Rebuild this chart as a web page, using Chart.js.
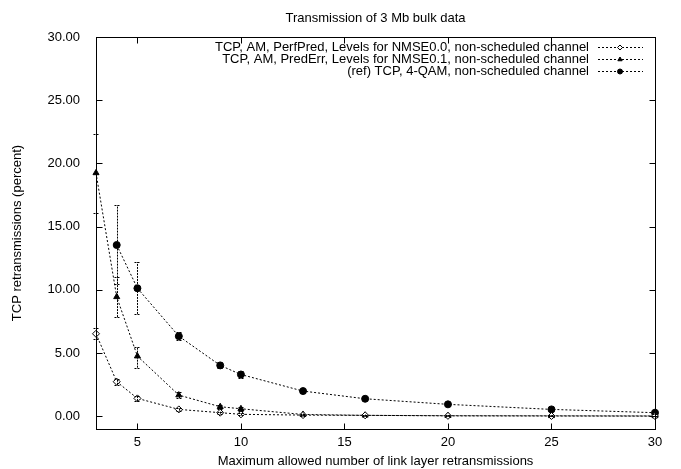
<!DOCTYPE html>
<html>
<head>
<meta charset="utf-8">
<script src="https://cdn.jsdelivr.net/npm/chart.js@4/dist/chart.umd.min.js"></script>
<style>
  html, body { margin: 0; padding: 0; background: #fff; }
  #wrap { width: 681px; height: 469px; }
</style>
</head>
<body>
<div id="wrap"><canvas id="chart" width="681" height="469"></canvas></div>
<script>
// data
const chartTitle = 'Transmission of 3 Mb bulk data';
const xTicks = [5, 10, 15, 20, 25, 30];
const yTicks = [0, 5, 10, 15, 20, 25, 30];

const perfLabel = 'TCP, AM, PerfPred, Levels for NMSE0.0, non-scheduled channel';
const perfX  = [3, 4, 5, 7, 9, 10, 13, 16, 20, 25, 30];
const perfY  = [6.53, 2.74, 1.42, 0.55, 0.29, 0.16, 0.10, 0.08, 0.04, 0.03, 0.02];
const perfLo = [6.10, 2.50, 1.22, 0.45, 0.21, 0.10, 0.06, 0.04, 0.02, 0.01, 0.01];
const perfHi = [6.95, 2.98, 1.63, 0.65, 0.37, 0.23, 0.14, 0.12, 0.07, 0.05, 0.04];

const predLabel = 'TCP, AM, PredErr, Levels for NMSE0.1, non-scheduled channel';
const predX  = [3, 4, 5, 7, 9, 10, 13, 16, 20, 25, 30];
const predY  = [19.25, 9.45, 4.76, 1.68, 0.76, 0.60, 0.15, 0.08, 0.05, 0.04, 0.03];
const predLo = [16.10, 7.85, 3.85, 1.45, 0.62, 0.45, 0.08, 0.03, 0.02, 0.01, 0.01];
const predHi = [22.30, 11.00, 5.50, 1.90, 0.90, 0.75, 0.22, 0.13, 0.08, 0.07, 0.05];

const refLabel = '(ref) TCP, 4-QAM, non-scheduled channel';
const refX  = [4, 5, 7, 9, 10, 13, 16, 20, 25, 30];
const refY  = [13.55, 10.13, 6.34, 4.03, 3.31, 2.00, 1.39, 0.95, 0.55, 0.29];
const refLo = [10.50, 8.10, 6.00, 3.80, 3.05, 1.85, 1.27, 0.87, 0.48, 0.22];
const refHi = [16.70, 12.20, 6.70, 4.27, 3.57, 2.15, 1.50, 1.03, 0.62, 0.36];

const FONT = '"Liberation Sans", Arial, Helvetica, sans-serif';
const DASH = [2, 2];

function pts(xs, ys) {
  return xs.map((x, i) => ({ x: x, y: ys[i] }));
}

function series(label, xs, ys, lo, hi, style, fill) {
  return {
    label: label,
    data: pts(xs, ys),
    errLo: lo,
    errHi: hi,
    showLine: true,
    borderColor: '#000',
    borderWidth: 1,
    borderDash: DASH,
    pointStyle: style,
    pointRadius: 3.5,
    pointBackgroundColor: fill,
    pointBorderColor: '#000',
    pointBorderWidth: 1,
    clip: false
  };
}

// vertical error bars with small caps
const errorBars = {
  id: 'errorBars',
  afterDatasetsDraw(chart) {
    const ctx = chart.ctx;
    const ys = chart.scales.y;
    ctx.save();
    ctx.strokeStyle = '#000';
    ctx.lineWidth = 1;
    ctx.setLineDash([2, 1]);
    chart.data.datasets.forEach((ds, di) => {
      const meta = chart.getDatasetMeta(di);
      meta.data.forEach((pt, i) => {
        const x = Math.round(pt.x) + 0.5;
        const y1 = ys.getPixelForValue(ds.errLo[i]);
        const y2 = ys.getPixelForValue(ds.errHi[i]);
        ctx.beginPath();
        ctx.moveTo(x, y1); ctx.lineTo(x, y2);
        ctx.moveTo(x - 3, Math.round(y1) + 0.5); ctx.lineTo(x + 3, Math.round(y1) + 0.5);
        ctx.moveTo(x - 3, Math.round(y2) + 0.5); ctx.lineTo(x + 3, Math.round(y2) + 0.5);
        ctx.stroke();
      });
    });
    ctx.restore();
  }
};

// gnuplot style frame: full border, mirrored inward ticks, title and key
const frame = {
  id: 'frame',
  afterDraw(chart) {
    const ctx = chart.ctx;
    const a = chart.chartArea;
    const xs = chart.scales.x, ys = chart.scales.y;
    ctx.save();
    ctx.strokeStyle = '#000';
    ctx.lineWidth = 1;
    ctx.setLineDash([]);
    const L = Math.round(a.left) + 0.5, R = Math.round(a.right) + 0.5;
    const T = Math.round(a.top) + 0.5, B = Math.round(a.bottom) + 0.5;
    ctx.strokeRect(L, T, R - L, B - T);
    ctx.beginPath();
    yTicks.forEach(v => {
      const y = Math.round(ys.getPixelForValue(v)) + 0.5;
      ctx.moveTo(L, y); ctx.lineTo(L + 6, y);
      ctx.moveTo(R, y); ctx.lineTo(R - 6, y);
    });
    xTicks.forEach(v => {
      const x = Math.round(xs.getPixelForValue(v)) + 0.5;
      ctx.moveTo(x, B); ctx.lineTo(x, B - 6);
      ctx.moveTo(x, T); ctx.lineTo(x, T + 6);
    });
    ctx.stroke();

    // title
    ctx.fillStyle = '#000';
    ctx.font = '13px ' + FONT;
    ctx.textAlign = 'center';
    ctx.textBaseline = 'middle';
    ctx.fillText(chartTitle, (a.left + a.right) / 2, 18);

    // key: text right aligned, dotted sample with marker on the right
    const rows = [47, 59, 71];
    chart.data.datasets.forEach((ds, i) => {
      const y = rows[i];
      ctx.fillStyle = '#000';
      ctx.textAlign = 'right';
      ctx.fillText(ds.label, 589, y);
      ctx.beginPath();
      ctx.setLineDash(DASH);
      ctx.moveTo(598, Math.round(y) + 0.5);
      ctx.lineTo(643, Math.round(y) + 0.5);
      ctx.stroke();
      ctx.setLineDash([]);
      ctx.fillStyle = ds.pointBackgroundColor;
      ctx.strokeStyle = '#000';
      Chart.helpers.drawPoint(ctx, {
        pointStyle: ds.pointStyle,
        radius: 2.5,
        borderWidth: 1
      }, 620, Math.round(y) + 0.5);
    });
    ctx.restore();
  }
};

new Chart(document.getElementById('chart'), {
  type: 'scatter',
  data: {
    datasets: [
      series(perfLabel, perfX, perfY, perfLo, perfHi, 'rectRot', '#fff'),
      series(predLabel, predX, predY, predLo, predHi, 'triangle', '#000'),
      series(refLabel, refX, refY, refLo, refHi, 'circle', '#000')
    ]
  },
  options: {
    responsive: false,
    animation: false,
    layout: { padding: { top: 37, right: 26, left: 0, bottom: 0 } },
    plugins: {
      legend: { display: false },
      title: { display: false },
      tooltip: { enabled: false }
    },
    scales: {
      x: {
        type: 'linear',
        min: 3,
        max: 30,
        grid: { display: false, drawTicks: false },
        border: { display: false },
        afterBuildTicks: s => { s.ticks = xTicks.map(v => ({ value: v })); },
        afterFit: s => { s.height = 40; },
        ticks: { color: '#000', padding: 6, font: { family: FONT, size: 13 }, maxRotation: 0 },
        title: {
          display: true,
          text: 'Maximum allowed number of link layer retransmissions',
          color: '#000',
          font: { family: FONT, size: 13 },
          padding: { top: 0, bottom: 0 }
        }
      },
      y: {
        type: 'linear',
        min: -1,
        max: 30,
        grid: { display: false, drawTicks: false },
        border: { display: false },
        afterBuildTicks: s => { s.ticks = yTicks.map(v => ({ value: v })); },
        afterFit: s => { s.width = 96; },
        ticks: {
          color: '#000',
          padding: 16,
          font: { family: FONT, size: 13 },
          callback: v => Number(v).toFixed(2)
        },
        title: {
          display: true,
          text: 'TCP retransmissions (percent)',
          color: '#000',
          font: { family: FONT, size: 13 },
          padding: { top: 10, bottom: 0 }
        }
      }
    }
  },
  plugins: [errorBars, frame]
});
</script>
</body>
</html>
